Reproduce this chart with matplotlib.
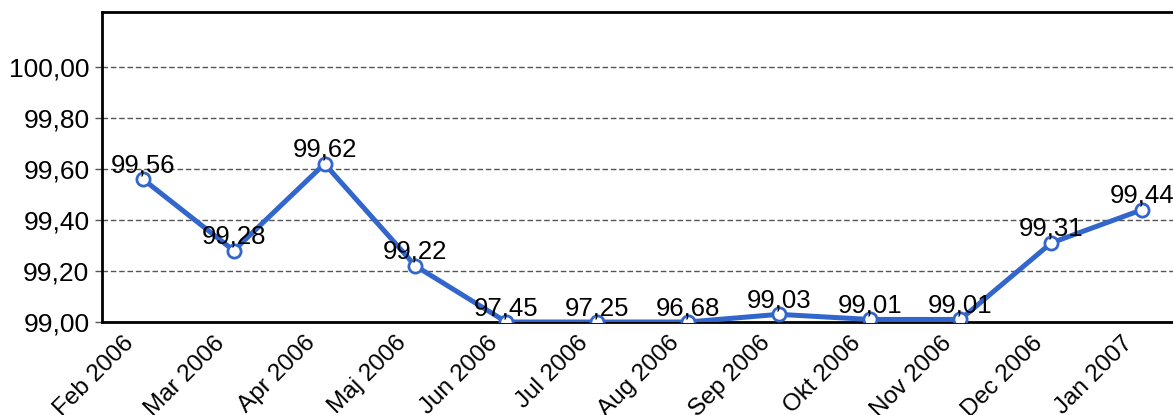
import numpy as np
import matplotlib
matplotlib.use('Agg')
import matplotlib.pyplot as plt
from matplotlib.ticker import FuncFormatter
from matplotlib.transforms import ScaledTranslation

# Data
months = ['Feb 2006', 'Mar 2006', 'Apr 2006', 'Maj 2006', 'Jun 2006', 'Jul 2006',
          'Aug 2006', 'Sep 2006', 'Okt 2006', 'Nov 2006', 'Dec 2006', 'Jan 2007']
values = [99.56, 99.28, 99.62, 99.22, 97.45, 97.25,
          96.68, 99.03, 99.01, 99.01, 99.31, 99.44]

y_min = 99.0
y_max = 100.215
line_col = '#3366cc'

plt.rcParams['font.family'] = ['Liberation Sans', 'DejaVu Sans']

fig = plt.figure(figsize=(11.73, 4.15), dpi=100)
ax = fig.add_axes([102 / 1173, 93 / 415, (1183 - 102) / 1173, (322 - 12) / 415])

x = np.arange(len(months))
shown = np.clip(values, y_min, None)   # values below the axis sit on the floor
ax.plot(x, shown, color=line_col, lw=3.6, marker='o', ms=9.5, mfc='white',
        mec=line_col, mew=2, zorder=3)

# value labels
for xi, yi, v in zip(x, shown, values):
    ax.annotate('{:.2f}'.format(v).replace('.', ','), (xi, yi),
                xytext=(0, 5), textcoords='offset points',
                ha='center', va='baseline', fontsize=18.5, zorder=4,
                annotation_clip=False)

ax.set_xlim(-0.45, len(months) - 1 + 0.45)
ax.set_ylim(y_min, y_max)
ax.set_yticks(np.arange(99.0, 100.01, 0.2))
ax.yaxis.set_major_formatter(FuncFormatter(lambda v, p: '{:.2f}'.format(v).replace('.', ',')))
ax.set_xticks(x)
ax.set_xticklabels(months, rotation=45, ha='right', va='baseline', rotation_mode='anchor')

ax.tick_params(axis='y', labelsize=19, length=5, width=1, color='#555555', pad=4)
ax.tick_params(axis='x', labelsize=17.5, length=0, pad=16)

# nudge rotated month labels a little to the left
shift = ScaledTranslation(-8 / 100, 0, fig.dpi_scale_trans)
for lab in ax.get_xticklabels():
    lab.set_transform(lab.get_transform() + shift)

ax.grid(axis='y', color='#555555', ls=(0, (4, 2)), lw=1)
ax.set_axisbelow(True)
for s in ax.spines.values():
    s.set_linewidth(2)
    s.set_color('black')

fig.savefig('out.png', dpi=100)
